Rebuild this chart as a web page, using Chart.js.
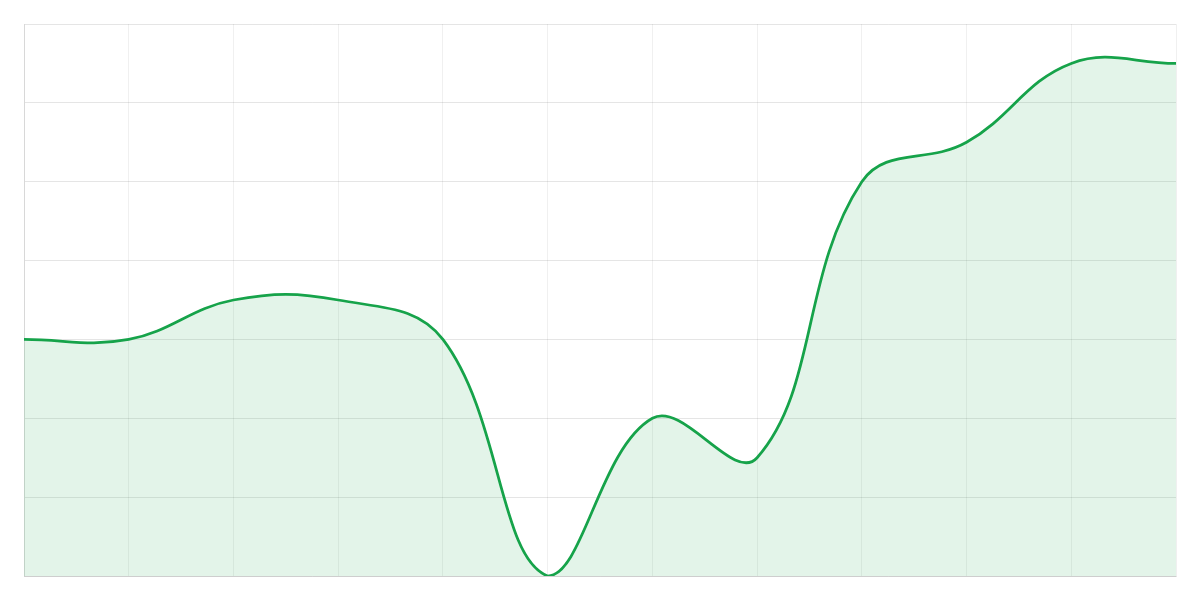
<!DOCTYPE html>
<html lang="en">
<head>
  <meta charset="UTF-8">
  <title>Area chart</title>
  <script src="https://cdn.jsdelivr.net/npm/chart.js"></script>
  <style>
    html, body { margin: 0; padding: 0; background: #fff; }
    #wrap { width: 1200px; height: 600px; }
  </style>
</head>
<body>
  <div id="wrap"><canvas id="chart"></canvas></div>
  <script>
    const labels = ['Jan', 'Feb', 'Mar', 'Apr', 'May', 'Jun', 'Jul', 'Aug', 'Sep', 'Oct', 'Nov', 'Dec'];
    const values = [30, 30, 35, 35, 30, 0, 20, 15, 50, 55, 65, 65];
    const yMin = 0, yMax = 70, yStep = 10;

    new Chart(document.getElementById('chart'), {
      type: 'line',
      data: {
        labels,
        datasets: [{
          data: values,
          borderColor: '#16a34a',
          backgroundColor: 'rgba(22, 163, 74, 0.12)',
          borderWidth: 2.75,
          fill: true,
          tension: 0.4,
          pointRadius: 0
        }]
      },
      options: {
        responsive: true,
        maintainAspectRatio: false,
        animation: false,
        layout: { padding: 24 },
        plugins: { legend: { display: false }, tooltip: { enabled: false } },
        scales: {
          x: {
            ticks: { display: false },
            grid: { color: 'rgba(0,0,0,0.06)', drawTicks: false },
            border: { color: 'rgba(0,0,0,0.1)' }
          },
          y: {
            min: yMin, max: yMax,
            ticks: { display: false, stepSize: yStep },
            grid: { color: 'rgba(0,0,0,0.1)', drawTicks: false },
            border: { color: 'rgba(0,0,0,0.1)' }
          }
        }
      }
    });
  </script>
</body>
</html>
